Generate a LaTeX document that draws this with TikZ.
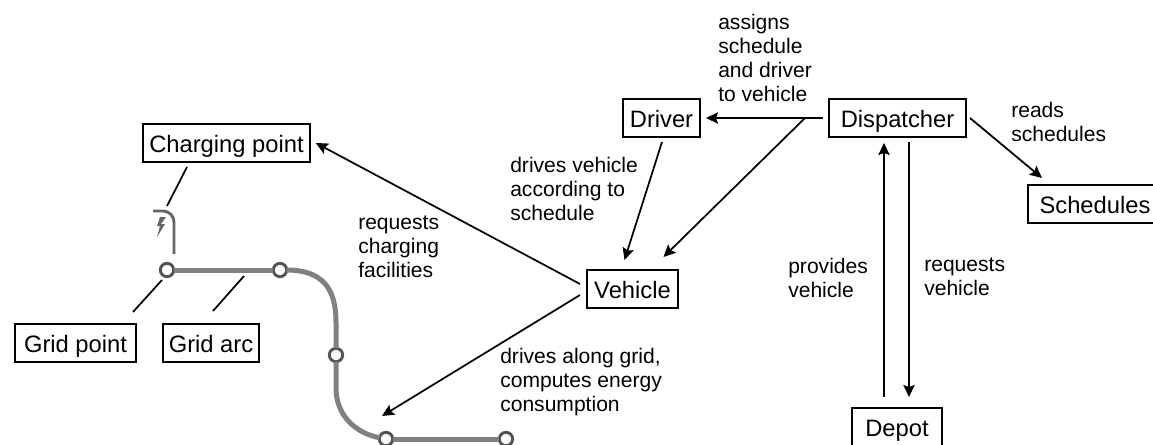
\documentclass[tikz,border=0pt]{standalone}
\usepackage{fontspec}
\setmainfont{Liberation Sans}
\usetikzlibrary{arrows.meta}
\tikzset{
	box/.style={draw=black, line width=1.3pt, font=\fontsize{17.8}{21}\selectfont, minimum height=28.5pt, text height=14pt, text depth=0.5pt, inner xsep=0pt, inner ysep=0pt, outer sep=4.5pt},
	caption/.style={anchor=west, align=left, inner sep=0pt, font=\fontsize{15.8}{18.2}\selectfont},
	flow/.style={line width=1.3pt, -{Stealth[length=9pt, width=8.5pt, inset=1.5pt]}},
	leader/.style={line width=1.3pt},
	gridarc/.style={line width=3.75pt, draw=black!50},
	gridnode/.style={circle, draw=black!67, fill=white, line width=2.2pt, minimum size=10pt, inner sep=0pt, outer sep=0pt},
	charger/.style={line width=2.2pt, draw=black!60}
}
\begin{document}
\begin{tikzpicture}[x=0.75pt, y=-0.75pt]
	\useasboundingbox (0,0) rectangle (1153,444);

	\node[box, minimum width=125pt] (ChargingPoint) at (226.5,143) {Charging point};
	\node[box, minimum width=90.75pt] (GridPoint) at (75.5,343) {Grid point};
	\node[box, minimum width=72pt] (GridArc) at (211,343) {Grid arc};
	\node[box, minimum width=57.75pt] (Driver) at (661.5,118) {Driver};
	\node[box, minimum width=102.75pt] (Dispatcher) at (897.5,118) {Dispatcher};
	\node[box, minimum width=100.5pt] (Schedules) at (1095,204) {Schedules};
	\node[box, minimum width=68.25pt] (Vehicle) at (632.5,289) {Vehicle};
	\node[box, minimum width=67.5pt] (Depot) at (897,427) {Depot};

	\node[gridnode] (GridA) at (167,270) {};
	\node[gridnode] (GridB) at (280,270) {};
	\node[gridnode] (GridC) at (336,355) {};
	\node[gridnode] (GridD) at (386,439) {};
	\node[gridnode] (GridE) at (506,439) {};

	\draw[gridarc] (GridA) -- (GridB);
	\draw[gridarc] (GridB) .. controls (322,270) and (336,288) .. (336,322) -- (GridC);
	\draw[gridarc] (GridC) -- (336,388) .. controls (336,415) and (355,433) .. (GridD);
	\draw[gridarc] (GridD) -- (GridE);

	% charger
	\draw[charger] (153,211) -- (163,211) arc (-90:0:11) -- (174,254);
	\fill[black!60] (160,217) -- (157,226) -- (160,226) -- (157,237) -- (165,224) -- (161,224) -- (166,217) -- cycle;
	\coordinate (ChargerTop) at (167,206);

	\draw[leader] ([shift={(-39.5,-1)}]ChargingPoint.south) -- (ChargerTop);
	\draw[leader] ([shift={(-9,-6)}]GridPoint.north east) -- ([shift={(-5,10)}]GridA.center);
	\draw[leader] ([shift={(2,-7)}]GridArc.north) -- (244,276);

	\draw[flow] (Dispatcher) -- (Driver);
	\draw[flow] (805,118) -- ([shift={(31,-7)}]Vehicle.north);
	\draw[flow] ([shift={(0.5,-1)}]Driver.south) -- ([shift={(-8,-4)}]Vehicle.north);
	\draw[flow] ([shift={(-1,-5)}]Vehicle.west) -- (ChargingPoint.east);
	\draw[flow] ([shift={(-2,0)}]Dispatcher.east) -- ([shift={(-53,-1)}]Schedules.north);
	\draw[flow] ([shift={(-1,6)}]Vehicle.west) -- (382,416);
	\draw[flow] ([shift={(-13,-5)}]Depot.north) -- ([shift={(-13.5,0)}]Dispatcher.south);
	\draw[flow] ([shift={(11.5,-1)}]Dispatcher.south) -- ([shift={(12,-5)}]Depot.north);

	\node[caption] (LabelAssigns) at (718,58) {assigns\\schedule\\and driver\\to vehicle};
	\node[caption] (LabelDrives) at (510,189) {drives vehicle\\according to\\schedule};
	\node[caption] (LabelRequests) at (358,247) {requests\\charging\\facilities};
	\node[caption] (LabelReads) at (1011,122) {reads\\schedules};
	\node[caption] (LabelProvides) at (788,278) {provides\\vehicle};
	\node[caption] (LabelRequestsVehicle) at (924,277) {requests\\vehicle};
	\node[caption] (LabelAlong) at (500,382) {drives along grid,\\computes energy\\consumption};
\end{tikzpicture}
\end{document}
